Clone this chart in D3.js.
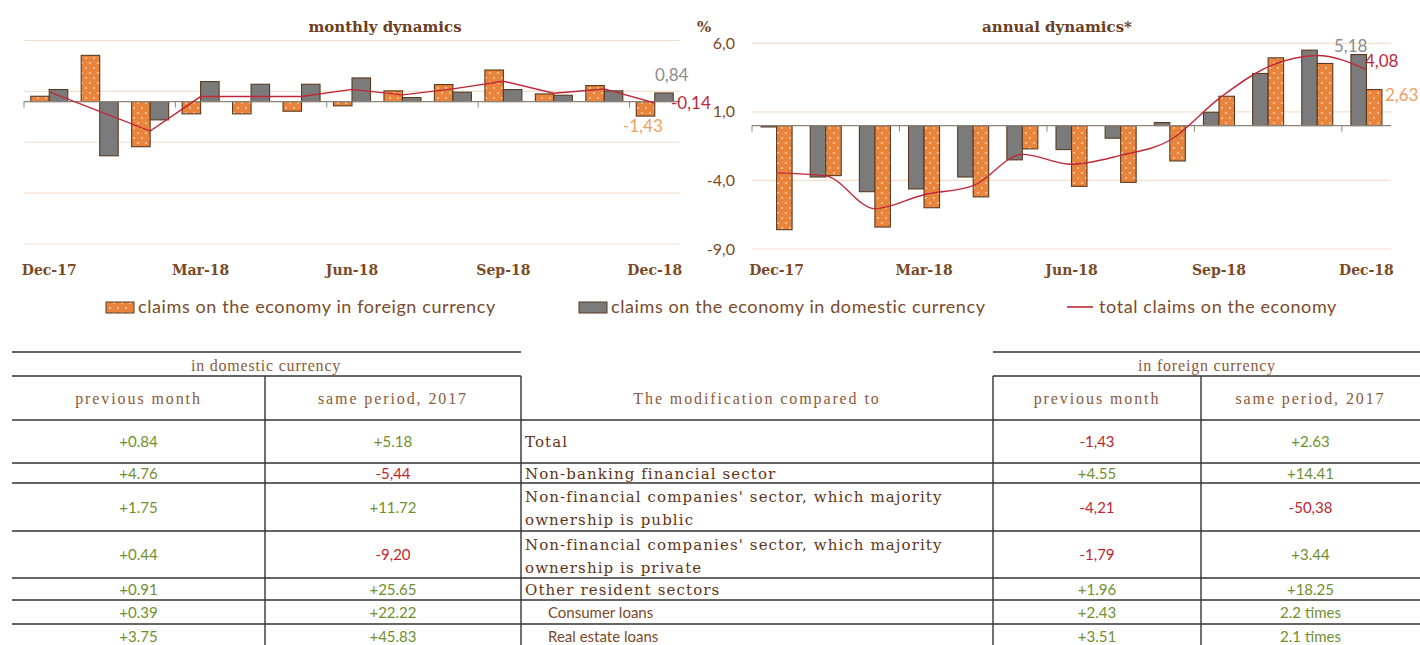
<!DOCTYPE html>
<html>
<head>
<meta charset="UTF-8">
<script src="https://cdn.jsdelivr.net/npm/d3@7"></script>
<style>
	body { margin: 0; background: #fff; }
	.Title { font-family: "DejaVu Serif", serif; font-weight: bold; font-size: 15px; fill: #6b3f1f; }
	.XLabel { font-family: "DejaVu Serif", serif; font-weight: bold; font-size: 14px; fill: #7a4a26; }
	.YLabel { font-family: Lato, sans-serif; font-size: 16px; fill: #7a4a26; }
	.Legend { font-family: Lato, sans-serif; font-size: 18px; fill: #7a4a2a; letter-spacing: 0.6px; }
	.Note { font-family: Lato, sans-serif; font-size: 17px; }
	.Head { font-family: "Liberation Serif", serif; font-size: 16px; fill: #8a5a3a; letter-spacing: 1.9px; }
	.RowLabel { font-family: "DejaVu Serif", serif; font-size: 15px; fill: #5e3418; letter-spacing: 1.1px; }
	.SubLabel { font-family: Lato, sans-serif; font-size: 15px; fill: #7a4a2a; }
	.Value { font-family: Lato, sans-serif; font-size: 15px; }
</style>
</head>
<body>
<svg id="Chart" width="1420" height="645"></svg>
<script>
// months on both panels
var months = ["Dec-17","Jan-18","Feb-18","Mar-18","Apr-18","May-18","Jun-18","Jul-18","Aug-18","Sep-18","Oct-18","Nov-18","Dec-18"];
var tickMonths = ["Dec-17","Mar-18","Jun-18","Sep-18","Dec-18"];

// monthly dynamics, %
var monthlyForeign  = [0.52, 4.54, -4.44, -1.21, -1.21, -0.95, -0.42, 1.05, 1.67, 3.10, 0.75, 1.57, -1.43];
var monthlyDomestic = [1.18, -5.33, -1.80, 1.96, 1.70, 1.70, 2.32, 0.39, 0.92, 1.18, 0.62, 1.05, 0.84];
var monthlyTotal    = [0.95, -0.97, -2.90, 0.49, 0.49, 0.49, 1.20, 0.66, 1.25, 2.00, 0.82, 1.24, -0.14];

// annual dynamics, %
var annualDomestic = [-0.10, -3.75, -4.82, -4.62, -3.75, -2.50, -1.75, -0.92, 0.22, 0.97, 3.80, 5.50, 5.18];
var annualForeign  = [-7.59, -3.65, -7.40, -5.99, -5.20, -1.70, -4.43, -4.14, -2.58, 2.14, 4.94, 4.53, 2.63];
var annualTotal    = [-3.45, -3.67, -6.06, -5.04, -4.38, -2.10, -2.82, -2.17, -1.07, 1.97, 4.28, 5.11, 4.08];
var annualTicks = [6, 1, -4, -9];
var annualTickText = ["6,0", "1,0", "-4,0", "-9,0"];

var legendNames = ["claims on the economy in foreign currency", "claims on the economy in domestic currency", "total claims on the economy"];

// table
var tableHeads = ["previous month", "same period, 2017", "The modification compared to", "previous month", "same period, 2017"];
var rowLabels = [["Total"], ["Non-banking financial sector"], ["Non-financial companies' sector, which majority", "ownership is public"],
	["Non-financial companies' sector, which majority", "ownership is private"], ["Other resident sectors"], ["Consumer loans"], ["Real estate loans"]];
var rowIsSub = [false, false, false, false, false, true, true];
var domPrev  = ["+0.84", "+4.76", "+1.75", "+0.44", "+0.91", "+0.39", "+3.75"];
var domSame  = ["+5.18", "-5,44", "+11.72", "-9,20", "+25.65", "+22.22", "+45.83"];
var forPrev  = ["-1,43", "+4.55", "-4,21", "-1,79", "+1.96", "+2.43", "+3.51"];
var forSame  = ["+2.63", "+14.41", "-50,38", "+3.44", "+18.25", "2.2 times", "2.1 times"];

var Orange = "#e8843c", Gray = "#7b7b7b", Red = "#c0283a", Edge = "#5a3a1e", Grid = "#f3dfcc";
var Green = "#6f8f2f", Bad = "#c0262d";

var svg = d3.select("#Chart");

var pat = svg.append("defs").append("pattern")
	.attr("id", "Dots").attr("patternUnits", "userSpaceOnUse")
	.attr("width", 8).attr("height", 10);
pat.append("rect").attr("width", 8).attr("height", 10).attr("fill", Orange);
pat.append("circle").attr("cx", 2).attr("cy", 3).attr("r", 0.8).attr("fill", "#fff");
pat.append("circle").attr("cx", 6).attr("cy", 8).attr("r", 0.8).attr("fill", "#fff");

function DrawPanel(P)
{
	var x = d3.scaleBand().domain(months).range(P.xRange);
	var y = d3.scaleLinear().domain(P.yDomain).range(P.yRange);
	var bw = x.bandwidth();
	var inner = d3.scaleBand().domain(P.order).range([(bw - 2 * P.barW) / 2, (bw + 2 * P.barW) / 2]);
	var g = svg.append("g");

	g.selectAll(".Grid").data(P.grid).enter().append("line")
		.attr("x1", P.xRange[0]).attr("x2", P.xRange[1])
		.attr("y1", function(d){ return y(d); }).attr("y2", function(d){ return y(d); })
		.attr("stroke", Grid).attr("stroke-width", 1.2);

	var series = {foreign: P.foreign, domestic: P.domestic};
	P.order.forEach(function(key)
	{
		g.selectAll(".B" + key).data(series[key]).enter().append("rect")
			.attr("x", function(d, i){ return x(months[i]) + inner(key); })
			.attr("width", inner.bandwidth())
			.attr("y", function(d){ return y(Math.max(0, d)); })
			.attr("height", function(d){ return Math.abs(y(d) - y(0)); })
			.attr("fill", key == "foreign" ? "url(#Dots)" : Gray)
			.attr("stroke", Edge).attr("stroke-width", 1.1);
	});

	// zero axis with ticks every quarter
	g.append("line").attr("x1", P.xRange[0]).attr("x2", P.xRange[1])
		.attr("y1", y(0)).attr("y2", y(0)).attr("stroke", "#8c8278").attr("stroke-width", 1.2);
	g.selectAll(".Tick").data(tickMonths).enter().append("line")
		.attr("x1", function(d){ return x(d); }).attr("x2", function(d){ return x(d); })
		.attr("y1", y(0)).attr("y2", y(0) + 6).attr("stroke", "#8c8278");

	var line = d3.line()
		.x(function(d, i){ return x(months[i]) + bw / 2; })
		.y(function(d){ return y(d); })
		.curve(P.curve);
	g.append("path").datum(P.total).attr("d", line)
		.attr("fill", "none").attr("stroke", Red).attr("stroke-width", 1.4);

	g.selectAll(".XLabel").data(tickMonths).enter().append("text")
		.attr("class", "XLabel")
		.attr("x", function(d){ return x(d) + bw / 2; })
		.attr("y", 275).attr("text-anchor", "middle")
		.text(function(d){ return d; });

	g.append("text").attr("class", "Title")
		.attr("x", P.titleX).attr("y", 32).attr("text-anchor", "middle").text(P.title);

	P.notes.forEach(function(n)
	{
		g.append("text").attr("class", "Note").attr("x", n.x).attr("y", n.y)
			.attr("fill", n.c).text(n.t);
	});
	return y;
}

DrawPanel({
	xRange: [24, 680], yDomain: [-14, 6], yRange: [244, 40.5], grid: [6, 1, -4, -9, -14],
	order: ["foreign", "domestic"], barW: 18.5,
	foreign: monthlyForeign, domestic: monthlyDomestic, total: monthlyTotal,
	curve: d3.curveLinear, title: "monthly dynamics", titleX: 385,
	notes: [
		{t: "0,84", x: 655, y: 81, c: "#8c8c8c"},
		{t: "-0,14", x: 671, y: 109, c: Red},
		{t: "-1,43", x: 623, y: 132, c: "#f0a060"}
	]
});

var ya = DrawPanel({
	xRange: [752, 1391], yDomain: [-9, 6], yRange: [249, 43.3], grid: annualTicks,
	order: ["domestic", "foreign"], barW: 15.5,
	foreign: annualForeign, domestic: annualDomestic, total: annualTotal,
	curve: d3.curveMonotoneX, title: "annual dynamics*", titleX: 1057,
	notes: [
		{t: "5,18", x: 1334, y: 52, c: "#8c8c8c"},
		{t: "4,08", x: 1365, y: 67, c: Red},
		{t: "2,63", x: 1385, y: 101, c: "#f0a060"}
	]
});

svg.selectAll(".YLabel").data(annualTicks).enter().append("text")
	.attr("class", "YLabel").attr("x", 735)
	.attr("y", function(d){ return ya(d) + 5.5; })
	.attr("text-anchor", "end")
	.text(function(d, i){ return annualTickText[i]; });
svg.append("text").attr("class", "Title").attr("x", 697).attr("y", 32).text("%");

// legend
var lg = svg.append("g");
lg.append("rect").attr("x", 106).attr("y", 302).attr("width", 28).attr("height", 11)
	.attr("fill", "url(#Dots)").attr("stroke", Edge);
lg.append("text").attr("class", "Legend").attr("x", 138).attr("y", 313).text(legendNames[0]);
lg.append("rect").attr("x", 579).attr("y", 302).attr("width", 28).attr("height", 11)
	.attr("fill", Gray).attr("stroke", Edge);
lg.append("text").attr("class", "Legend").attr("x", 611).attr("y", 313).text(legendNames[1]);
lg.append("line").attr("x1", 1067).attr("x2", 1093).attr("y1", 307).attr("y2", 307)
	.attr("stroke", Red).attr("stroke-width", 1.6);
lg.append("text").attr("class", "Legend").attr("x", 1099).attr("y", 313).text(legendNames[2]);

// table
var tb = svg.append("g");
var colX = [12, 265, 521, 993, 1201, 1420];
var rowY = [420, 463, 483, 531, 578, 600, 624, 648];
function HLine(x1, x2, yy)
{
	tb.append("line").attr("x1", x1).attr("x2", x2).attr("y1", yy).attr("y2", yy)
		.attr("stroke", "#333").attr("stroke-width", 1.4);
}
HLine(12, 521, 352); HLine(12, 521, 376);
HLine(993, 1420, 352); HLine(993, 1420, 376);
rowY.slice(0, 7).forEach(function(yy){ HLine(12, 1420, yy); });
[265, 521, 993, 1201].forEach(function(xx)
{
	tb.append("line").attr("x1", xx).attr("x2", xx).attr("y1", 376).attr("y2", 645)
		.attr("stroke", "#333").attr("stroke-width", 1.4);
});

tb.append("text").attr("class", "Head").attr("x", 266).attr("y", 371)
	.attr("text-anchor", "middle").style("letter-spacing", "0.8px").text("in domestic currency");
tb.append("text").attr("class", "Head").attr("x", 1207).attr("y", 371)
	.attr("text-anchor", "middle").style("letter-spacing", "0.8px").text("in foreign currency");
tableHeads.forEach(function(h, i)
{
	tb.append("text").attr("class", "Head")
		.attr("x", (colX[i] + colX[i + 1]) / 2).attr("y", 404)
		.attr("text-anchor", "middle").text(h);
});

var valueCols = [domPrev, domSame, null, forPrev, forSame];
rowLabels.forEach(function(lab, r)
{
	var mid = (rowY[r] + rowY[r + 1]) / 2;
	if (r == 6) mid = 636;
	valueCols.forEach(function(col, c)
	{
		if (!col) return;
		var v = col[r];
		tb.append("text").attr("class", "Value")
			.attr("x", (colX[c] + colX[c + 1]) / 2).attr("y", mid + 5.5)
			.attr("text-anchor", "middle")
			.attr("fill", v.charAt(0) == "-" ? Bad : Green)
			.text(v);
	});
	lab.forEach(function(t, k)
	{
		var yy = lab.length == 1 ? mid + 5.5 : mid - 5 + k * 23;
		tb.append("text").attr("class", rowIsSub[r] ? "SubLabel" : "RowLabel")
			.attr("x", rowIsSub[r] ? 548 : 525).attr("y", yy).text(t);
	});
});
</script>
</body>
</html>
